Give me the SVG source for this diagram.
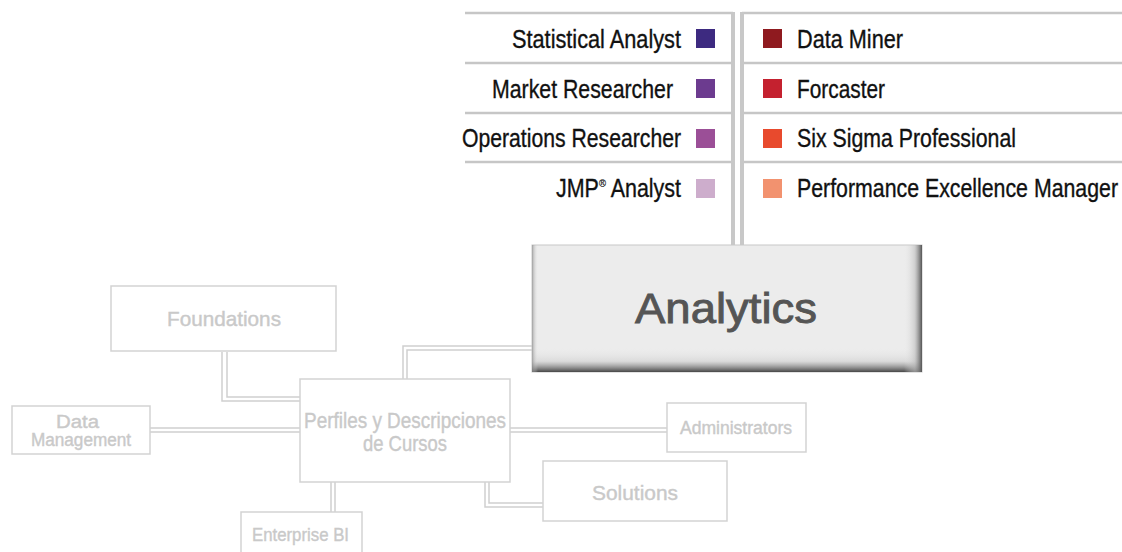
<svg xmlns="http://www.w3.org/2000/svg" width="1122" height="552" viewBox="0 0 1122 552">
<defs>
<style>
.lbl{font-family:"Liberation Sans Narrow","Liberation Sans",Arial,sans-serif;font-size:25px;fill:#111;stroke:#111;stroke-width:0.35}
.sub{font-family:"Liberation Sans Narrow","Liberation Sans",Arial,sans-serif;fill:#c9c9c9;stroke:#c9c9c9;stroke-width:0.4}
.pl{stroke:#c6c6c6;stroke-width:2.5;fill:none}
.pv{stroke:#c8c8c8;stroke-width:4;fill:none}
.box{fill:#fff;stroke:#d3d3d3;stroke-width:1.5}
.cn{stroke:#d0d0d0;stroke-width:1.5;fill:none}
</style>
<linearGradient id="gb" x1="0" y1="0" x2="0" y2="1">
<stop offset="0" stop-color="#e9e9e9" stop-opacity="0"/>
<stop offset="0.55" stop-color="#cfcfcf" stop-opacity="0.6"/>
<stop offset="1" stop-color="#474747"/>
</linearGradient>
<linearGradient id="gr" x1="0" y1="0" x2="1" y2="0">
<stop offset="0" stop-color="#e9e9e9" stop-opacity="0"/>
<stop offset="0.6" stop-color="#bdbdbd" stop-opacity="0.6"/>
<stop offset="1" stop-color="#555"/>
</linearGradient>
<linearGradient id="gl" x1="0" y1="0" x2="1" y2="0">
<stop offset="0" stop-color="#8a8a8a" stop-opacity="0.7"/>
<stop offset="1" stop-color="#e9e9e9" stop-opacity="0"/>
</linearGradient>
</defs>
<rect width="1122" height="552" fill="#fff"/>

<g id="connectors">
<g id="panel-lines">
<path class="pl" d="M465 13H733M465 63H733M465 113H733M465 162H733"/>
<path class="pl" d="M742 13H1122M742 63H1122M742 113H1122M742 162H1122"/>
<path class="pv" d="M733 12V246M742 12V246"/>
</g>
<path class="cn" d="M222 352V401H300M227 352V397H300"/>
<path class="cn" d="M150 428H300M150 432H300"/>
<path class="cn" d="M403 379V346H532M407 379V350H532"/>
<path class="cn" d="M510 428H667M510 432H667"/>
<path class="cn" d="M331 482V512M335 482V512"/>
<path class="cn" d="M485 482V507H543M489 482V503H543"/>
</g>

<g id="roles-left">
<g id="statistical-analyst"><text class="lbl" x="512" y="47.5" textLength="169" lengthAdjust="spacingAndGlyphs">Statistical Analyst</text><rect x="696" y="29" width="19" height="19" fill="#3d2a80"/></g>
<g id="market-researcher"><text class="lbl" x="492" y="97.5" textLength="181" lengthAdjust="spacingAndGlyphs">Market Researcher</text><rect x="696" y="79" width="19" height="19" fill="#6c3b8f"/></g>
<g id="operations-researcher"><text class="lbl" x="462" y="147" textLength="219" lengthAdjust="spacingAndGlyphs">Operations Researcher</text><rect x="696" y="129" width="19" height="19" fill="#9b4f97"/></g>
<g id="jmp-analyst"><text class="lbl" x="556" y="197" textLength="125" lengthAdjust="spacingAndGlyphs">JMP<tspan font-size="11" stroke-width="0.2" dy="-10">®</tspan><tspan dy="10"> Analyst</tspan></text><rect x="696" y="179" width="19" height="19" fill="#cdadcc"/></g>
</g>

<g id="roles-right">
<g id="data-miner"><rect x="763" y="29" width="19" height="19" fill="#8f1a1f"/><text class="lbl" x="797" y="47.5" textLength="106" lengthAdjust="spacingAndGlyphs">Data Miner</text></g>
<g id="forcaster"><rect x="763" y="79" width="19" height="19" fill="#c4212f"/><text class="lbl" x="797" y="97.5" textLength="88" lengthAdjust="spacingAndGlyphs">Forcaster</text></g>
<g id="six-sigma"><rect x="763" y="129" width="19" height="19" fill="#e84a2d"/><text class="lbl" x="797" y="147" textLength="219" lengthAdjust="spacingAndGlyphs">Six Sigma Professional</text></g>
<g id="performance"><rect x="763" y="179" width="19" height="19" fill="#f2926f"/><text class="lbl" x="797" y="197" textLength="321" lengthAdjust="spacingAndGlyphs">Performance Excellence Manager</text></g>
</g>

<g id="analytics">
<rect x="532" y="245" width="390" height="127" fill="#ececec" stroke="#c8c8c8" stroke-width="1"/>
<rect x="532" y="348" width="390" height="24" fill="url(#gb)"/>
<rect x="904" y="245" width="18" height="127" fill="url(#gr)"/>
<rect x="532" y="245" width="6" height="127" fill="url(#gl)"/>
<text x="635" y="323" textLength="182" lengthAdjust="spacingAndGlyphs" style="font-family:'Liberation Sans Narrow','Liberation Sans',Arial,sans-serif;font-size:43px;fill:#555;stroke:#555;stroke-width:0.9">Analytics</text>
</g>

<g id="foundations">
<rect class="box" x="111" y="286" width="225" height="65"/>
<text class="sub" x="167" y="326" font-size="21" textLength="114" lengthAdjust="spacingAndGlyphs">Foundations</text>
</g>

<g id="data-management">
<rect class="box" x="12" y="406" width="138" height="48"/>
<text class="sub" x="56" y="428" font-size="18" textLength="43" lengthAdjust="spacingAndGlyphs">Data</text>
<text class="sub" x="31" y="446" font-size="18" textLength="100" lengthAdjust="spacingAndGlyphs">Management</text>
</g>

<g id="perfiles">
<rect class="box" x="300" y="379" width="210" height="103"/>
<text class="sub" x="304" y="428" font-size="22" textLength="202" lengthAdjust="spacingAndGlyphs">Perfiles y Descripciones</text>
<text class="sub" x="363" y="451" font-size="22" textLength="84" lengthAdjust="spacingAndGlyphs">de Cursos</text>
</g>

<g id="administrators">
<rect class="box" x="667" y="403" width="139" height="49"/>
<text class="sub" x="680" y="434" font-size="18" textLength="112" lengthAdjust="spacingAndGlyphs">Administrators</text>
</g>

<g id="solutions">
<rect class="box" x="543" y="461" width="184" height="60"/>
<text class="sub" x="592" y="500" font-size="21" textLength="86" lengthAdjust="spacingAndGlyphs">Solutions</text>
</g>

<g id="enterprise-bi">
<rect class="box" x="241" y="512" width="121" height="50"/>
<text class="sub" x="252" y="541" font-size="19" textLength="97" lengthAdjust="spacingAndGlyphs">Enterprise BI</text>
</g>
</svg>
